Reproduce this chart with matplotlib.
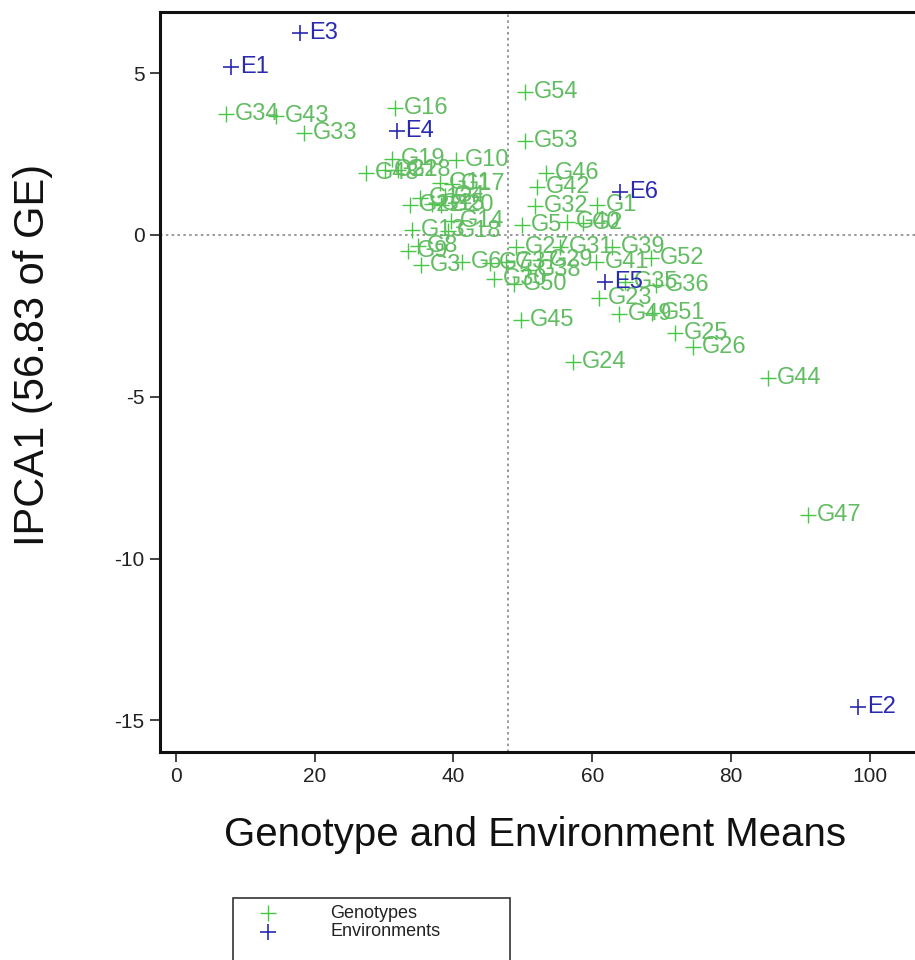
import matplotlib
matplotlib.use("Agg")
import matplotlib.pyplot as plt
from matplotlib.lines import Line2D
from matplotlib.patches import Rectangle

plt.rcParams['font.family'] = ['Liberation Sans', 'DejaVu Sans']

gen_labels = ["G%d" % i for i in range(1, 55)]
gen_x = [60.7, 58.6, 35.3, 38.8, 49.9, 41.2, 45.2, 34.9, 33.4, 40.3,
         38.0, 35.2, 34.0, 39.6, 36.9, 31.6, 39.8, 39.2, 31.1, 38.2,
         30.1, 33.7, 61.0, 57.2, 71.9, 74.5, 49.0, 32.0, 52.4, 45.8,
         55.3, 51.7, 18.4, 7.2, 64.7, 69.2, 47.6, 50.7, 62.8, 56.3,
         60.5, 52.0, 14.4, 85.3, 49.7, 53.3, 91.1, 27.4, 63.8, 48.7,
         68.6, 68.4, 50.3, 50.3]
gen_y = [0.93, 0.37, -0.93, 1.21, 0.31, -0.83, -0.87, -0.34, -0.49, 2.32,
         1.61, 1.14, 0.15, 0.43, 0.96, 3.93, 1.58, 0.12, 2.35, 0.93,
         2.01, 0.93, -1.95, -3.93, -3.03, -3.46, -0.37, 2.01, -0.77, -1.36,
         -0.37, 0.90, 3.15, 3.74, -1.45, -1.55, -0.83, -1.08, -0.37, 0.40,
         -0.83, 1.48, 3.68, -4.42, -2.63, 1.92, -8.66, 1.92, -2.44, -1.51,
         -2.41, -0.71, 2.91, 4.42]

env_labels = ["E1", "E2", "E3", "E4", "E5", "E6"]
env_x = [7.9, 98.3, 17.9, 31.8, 61.8, 64.0]
env_y = [5.19, -14.6, 6.24, 3.21, -1.45, 1.33]

grand_mean = 47.8

xticks = [0, 20, 40, 60, 80, 100]
yticks = [5, 0, -5, -10, -15]

gcol = '#45C845'
gtxt = '#62BC62'
ecol = '#2A2AB0'

fig = plt.figure(figsize=(9.15, 9.6), dpi=100)
ax = fig.add_axes([160/915, 208/960, 775/915, 740/960])
ax.set_xlim(-2.3, 109.4)
ax.set_ylim(-15.98, 6.89)

ax.axvline(grand_mean, color='#888888', ls=(0, (1.5, 2)), lw=1.2, zorder=1)
ax.axhline(0, color='#888888', ls=(0, (1.5, 2)), lw=1.2, zorder=1)

ax.plot(gen_x, gen_y, ls='none', marker='+', ms=11, mew=1.0, color=gcol, zorder=3)
for lab, x, y in zip(gen_labels, gen_x, gen_y):
    ax.annotate(lab, (x, y), xytext=(6.5, 0), textcoords='offset points',
                ha='left', va='center', fontsize=17, color=gtxt, zorder=3)

ax.plot(env_x, env_y, ls='none', marker='+', ms=11, mew=1.2, color=ecol, zorder=4)
for lab, x, y in zip(env_labels, env_x, env_y):
    ax.annotate(lab, (x, y), xytext=(6.5, 0), textcoords='offset points',
                ha='left', va='center', fontsize=17, color=ecol, zorder=4)

ax.set_xticks(xticks)
ax.set_yticks(yticks)
ax.set_xticklabels([str(t) for t in xticks])
ax.set_yticklabels([str(t) for t in yticks])
ax.tick_params(direction='out', length=7, width=1.2, labelsize=15, pad=4, colors='#222222')
for s in ax.spines.values():
    s.set_linewidth(2.2)
    s.set_color('#111111')

fig.text(535/915, (960-835)/960, "Genotype and Environment Means", ha='center', va='center',
         fontsize=29, color='#111111')
fig.text(33/915, (960-355)/960, "IPCA1 (56.83 of GE)", ha='center', va='center',
         rotation=90, fontsize=30, color='#111111')

# legend box (extends past bottom edge as in reference)
rect = Rectangle((233/915, -0.05), (510-233)/915, 0.05 + (960-898)/960,
                 transform=fig.transFigure, fill=False, ec='#333333', lw=1.2)
fig.patches.append(rect)
fig.lines.append(Line2D([268/915], [(960-913)/960], transform=fig.transFigure,
                        marker='+', ms=11, mew=1.0, color=gcol, ls='none'))
fig.lines.append(Line2D([268/915], [(960-932)/960], transform=fig.transFigure,
                        marker='+', ms=11, mew=1.2, color=ecol, ls='none'))
fig.text(330/915, (960-913)/960, "Genotypes", ha='left', va='center', fontsize=13, color='#222222')
fig.text(330/915, (960-932)/960, "Environments", ha='left', va='center', fontsize=13, color='#222222')

fig.savefig("out.png", dpi=100)
